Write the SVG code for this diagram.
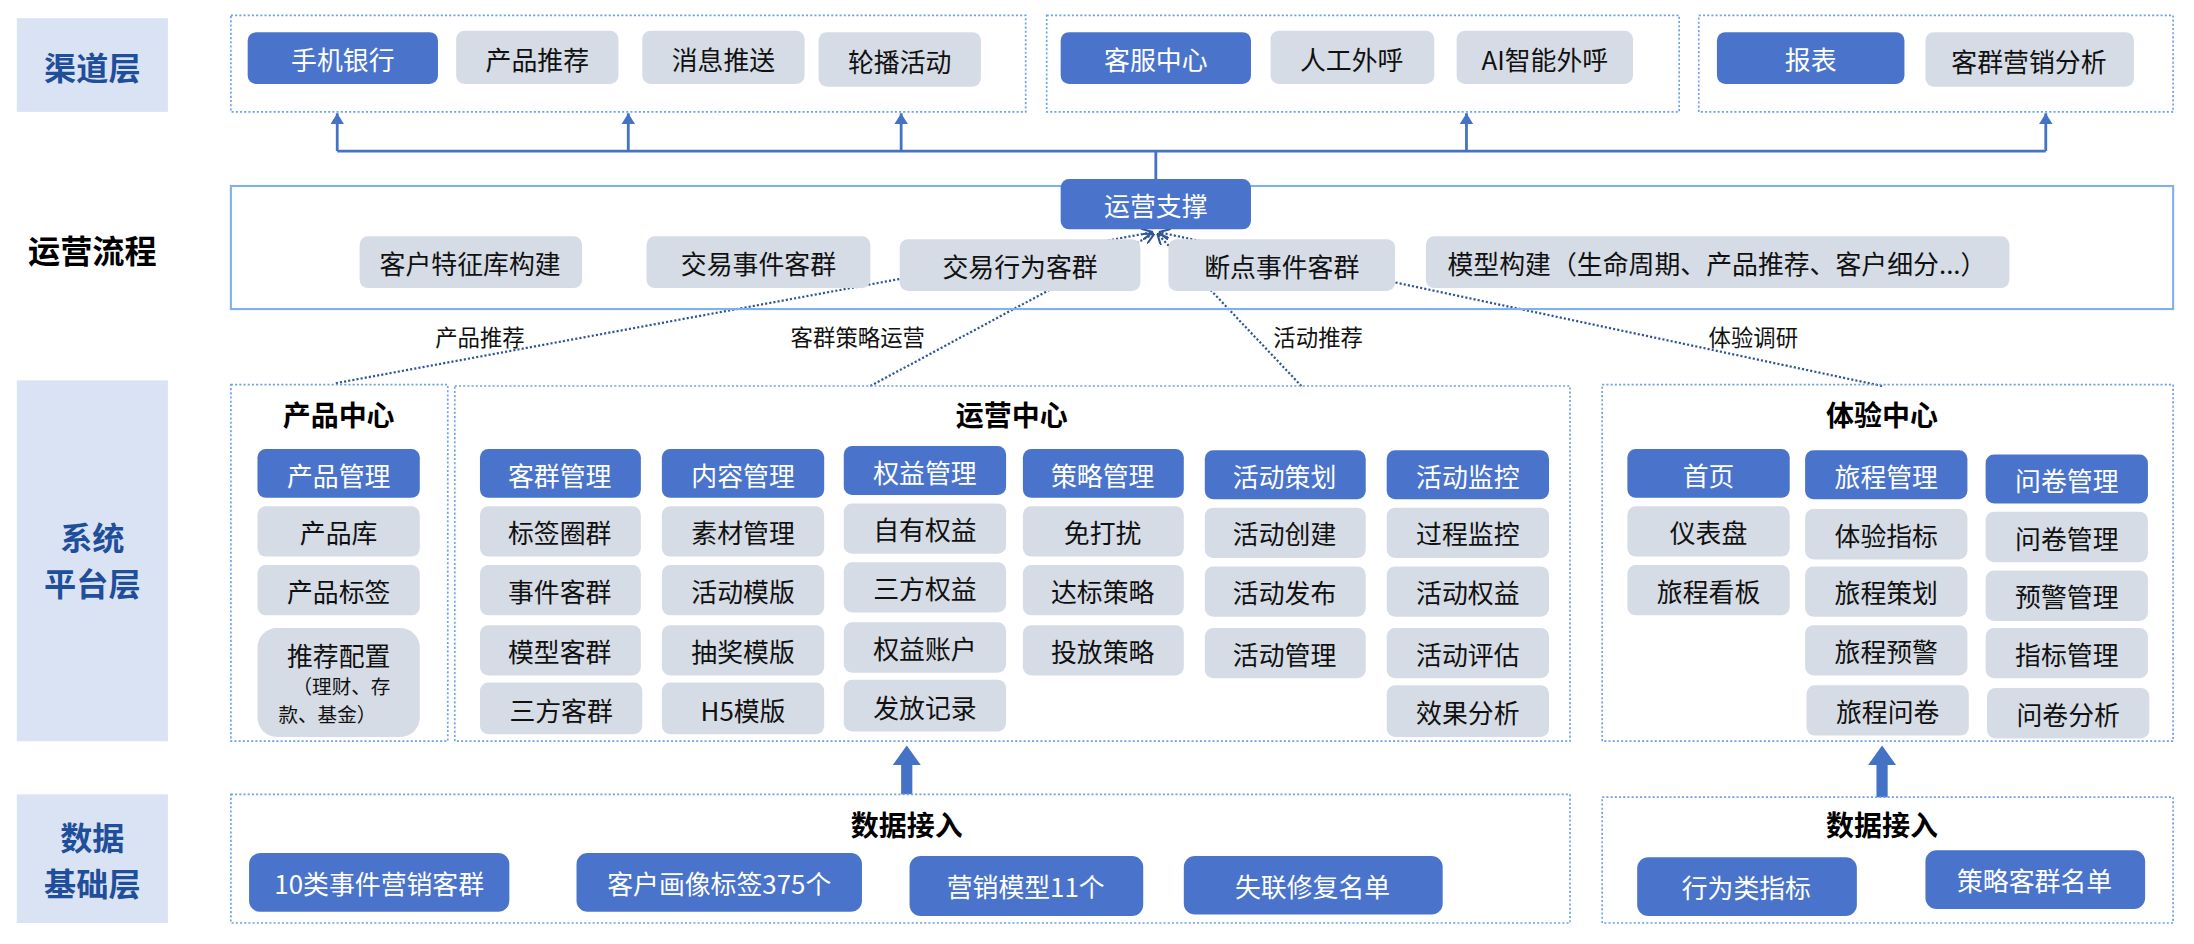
<svg xmlns="http://www.w3.org/2000/svg" width="2194" height="944" viewBox="0 0 2194 944">
<style>
text{font-family:"Noto Sans CJK SC","Liberation Sans",sans-serif;text-anchor:middle;dominant-baseline:central}
.b{fill:#4A74CB}
.g{fill:#D6DCE5}
.tw{fill:#fff;font-size:18.5px}
.tk{fill:#111;font-size:18.5px}
.grp{fill:none;stroke:#6FA3E8;stroke-width:1.2;stroke-dasharray:1.5 1.5}
.lab{fill:#DAE3F3}
.lt{fill:#1F4E9A;font-size:23px;font-weight:bold}
.ti{fill:#000;font-size:20px;font-weight:bold}
.cl{fill:#111;font-size:16px}
.ln{stroke:#4472C4;stroke-width:2;fill:none}
.dl{stroke:#2F5597;stroke-width:1.6;fill:none;stroke-dasharray:1.5 1.5}
</style>
<defs>
<marker id="ah" markerWidth="8" markerHeight="10" refX="8" refY="5" orient="auto" markerUnits="userSpaceOnUse"><path d="M0,0 L8,5 L0,10 z" fill="#4472C4"/></marker>
<marker id="ad" markerWidth="8" markerHeight="8" refX="8" refY="4" orient="auto" markerUnits="userSpaceOnUse"><path d="M0,0 L8,4 L0,8" fill="none" stroke="#2F5597" stroke-width="1.5"/></marker>
</defs>
<rect width="2194" height="944" fill="#fff"/>
<g transform="scale(1.3993,1.3985)">
<g id="labels">
<rect class="lab" x="12" y="13" width="108" height="67"/><text class="lt" x="66" y="47">渠道层</text>
<text x="66" y="178" style="fill:#000;font-size:23px;font-weight:bold">运营流程</text>
<rect class="lab" x="12" y="272" width="108" height="258"/><text class="lt" x="66" y="383">系统</text><text class="lt" x="66" y="416">平台层</text>
<rect class="lab" x="12" y="568" width="108" height="92"/><text class="lt" x="66" y="598">数据</text><text class="lt" x="66" y="631">基础层</text>
</g>
<g id="connectors">
<path class="ln" d="M826,128 V108 M241,108 H1462"/>
<path class="ln" marker-end="url(#ah)" d="M241,108 V81"/>
<path class="ln" marker-end="url(#ah)" d="M449,108 V81"/>
<path class="ln" marker-end="url(#ah)" d="M644,108 V81"/>
<path class="ln" marker-end="url(#ah)" d="M1048,108 V81"/>
<path class="ln" marker-end="url(#ah)" d="M1462,108 V81"/>
<path class="dl" marker-end="url(#ad)" d="M240,274 L824,166"/>
<path class="dl" marker-end="url(#ad)" d="M622,276 L825,167"/>
<path class="dl" marker-end="url(#ad)" d="M930,276 L827,167"/>
<path class="dl" marker-end="url(#ad)" d="M1345,276 L828,166"/>
<polygon fill="#4472C4" points="644,568 652,568 652,547 658,547 648,533 638,547 644,547"/>
<polygon fill="#4472C4" points="1341,570 1349,570 1349,547 1355,547 1345,533 1335,547 1341,547"/>
<text class="cl" x="343" y="240">产品推荐</text>
<text class="cl" x="613" y="240">客群策略运营</text>
<text class="cl" x="942" y="240">活动推荐</text>
<text class="cl" x="1253" y="240">体验调研</text>
</g>
<g id="channel">
<rect class="grp" x="165" y="11" width="568" height="69"/>
<rect class="grp" x="748" y="11" width="452" height="69"/>
<rect class="grp" x="1214" y="11" width="339" height="69"/>
<g id="n-sjyh"><rect class="b" x="177" y="23" width="136" height="37" rx="6"/><text class="tw" x="245" y="42">手机银行</text></g>
<g id="n-cptj"><rect class="g" x="326" y="22" width="116" height="38" rx="6"/><text class="tk" x="384" y="42">产品推荐</text></g>
<g id="n-xxts"><rect class="g" x="459" y="22" width="116" height="38" rx="6"/><text class="tk" x="517" y="42">消息推送</text></g>
<g id="n-lbhd"><rect class="g" x="585" y="23" width="116" height="39" rx="6"/><text class="tk" x="643" y="43">轮播活动</text></g>
<g id="n-kfzx"><rect class="b" x="758" y="23" width="136" height="37" rx="6"/><text class="tw" x="826" y="42">客服中心</text></g>
<g id="n-rgwh"><rect class="g" x="908" y="22" width="117" height="38" rx="6"/><text class="tk" x="966" y="42">人工外呼</text></g>
<g id="n-aiwh"><rect class="g" x="1041" y="22" width="126" height="38" rx="6"/><text class="tk" x="1104" y="42">AI智能外呼</text></g>
<g id="n-bb"><rect class="b" x="1227" y="23" width="134" height="37" rx="6"/><text class="tw" x="1294" y="42">报表</text></g>
<g id="n-kqyx"><rect class="g" x="1376" y="23" width="149" height="39" rx="6"/><text class="tk" x="1450" y="43">客群营销分析</text></g>
</g>
<g id="process">
<rect x="165" y="133" width="1388" height="88" fill="none" stroke="#7EB0F0" stroke-width="1.5"/>
<g id="n-yyzc"><rect class="b" x="758" y="128" width="136" height="36" rx="6"/><text class="tw" x="826" y="146">运营支撑</text></g>
<g id="n-khtz"><rect class="g" x="257" y="169" width="159" height="37" rx="6"/><text class="tk" x="336" y="188">客户特征库构建</text></g>
<g id="n-jysj"><rect class="g" x="462" y="169" width="160" height="37" rx="6"/><text class="tk" x="542" y="188">交易事件客群</text></g>
<g id="n-jyxw"><rect class="g" x="643" y="171" width="172" height="37" rx="6"/><text class="tk" x="729" y="190">交易行为客群</text></g>
<g id="n-ddsj"><rect class="g" x="835" y="171" width="162" height="37" rx="6"/><text class="tk" x="916" y="190">断点事件客群</text></g>
<g id="n-mxgj"><rect class="g" x="1019" y="169" width="417" height="37" rx="6"/><text class="tk" x="1227" y="188">模型构建（生命周期、产品推荐、客户细分...）</text></g>
</g>
<g id="platform">
<rect class="grp" x="165" y="275" width="155" height="255"/>
<rect class="grp" x="325" y="276" width="797" height="254"/>
<rect class="grp" x="1145" y="275" width="408" height="255"/>
<text class="ti" x="242" y="296">产品中心</text>
<text class="ti" x="723" y="296">运营中心</text>
<text class="ti" x="1345" y="296">体验中心</text>
<g id="n-cpgl"><rect class="b" x="184" y="321" width="116" height="35" rx="6"/><text class="tw" x="242" y="339">产品管理</text></g>
<g id="n-cpk"><rect class="g" x="184" y="362" width="116" height="36" rx="6"/><text class="tk" x="242" y="380">产品库</text></g>
<g id="n-cpbq"><rect class="g" x="184" y="404" width="116" height="36" rx="6"/><text class="tk" x="242" y="422">产品标签</text></g>
<g id="n-tjpz"><rect class="g" x="184" y="449" width="116" height="78" rx="14"/><text class="tk" x="242" y="468">推荐配置</text><text class="tk" x="244" y="490" style="font-size:14px">（理财、存</text><text class="tk" x="234" y="510" style="font-size:14px">款、基金）</text></g>
<g id="n-kqgl"><rect class="b" x="343" y="321" width="115" height="35" rx="6"/><text class="tw" x="400" y="339">客群管理</text></g>
<g id="n-bqqq"><rect class="g" x="343" y="362" width="115" height="36" rx="6"/><text class="tk" x="400" y="380">标签圈群</text></g>
<g id="n-sjkq"><rect class="g" x="343" y="404" width="115" height="36" rx="6"/><text class="tk" x="400" y="422">事件客群</text></g>
<g id="n-mxkq"><rect class="g" x="343" y="447" width="115" height="36" rx="6"/><text class="tk" x="400" y="465">模型客群</text></g>
<g id="n-sfkq"><rect class="g" x="343" y="488" width="116" height="37" rx="6"/><text class="tk" x="401" y="507">三方客群</text></g>
<g id="n-nrgl"><rect class="b" x="473" y="321" width="116" height="35" rx="6"/><text class="tw" x="531" y="339">内容管理</text></g>
<g id="n-scgl"><rect class="g" x="473" y="362" width="116" height="36" rx="6"/><text class="tk" x="531" y="380">素材管理</text></g>
<g id="n-hdmb"><rect class="g" x="473" y="404" width="116" height="36" rx="6"/><text class="tk" x="531" y="422">活动模版</text></g>
<g id="n-cjmb"><rect class="g" x="473" y="447" width="116" height="36" rx="6"/><text class="tk" x="531" y="465">抽奖模版</text></g>
<g id="n-h5mb"><rect class="g" x="473" y="488" width="116" height="37" rx="6"/><text class="tk" x="531" y="507">H5模版</text></g>
<g id="n-qygl"><rect class="b" x="603" y="319" width="116" height="35" rx="6"/><text class="tw" x="661" y="337">权益管理</text></g>
<g id="n-zyqy"><rect class="g" x="603" y="360" width="116" height="36" rx="6"/><text class="tk" x="661" y="378">自有权益</text></g>
<g id="n-sfqy"><rect class="g" x="603" y="402" width="116" height="36" rx="6"/><text class="tk" x="661" y="420">三方权益</text></g>
<g id="n-qyzh"><rect class="g" x="603" y="445" width="116" height="36" rx="6"/><text class="tk" x="661" y="463">权益账户</text></g>
<g id="n-ffjl"><rect class="g" x="603" y="486" width="116" height="37" rx="6"/><text class="tk" x="661" y="505">发放记录</text></g>
<g id="n-clgl"><rect class="b" x="731" y="321" width="115" height="35" rx="6"/><text class="tw" x="788" y="339">策略管理</text></g>
<g id="n-mdr"><rect class="g" x="731" y="362" width="115" height="36" rx="6"/><text class="tk" x="788" y="380">免打扰</text></g>
<g id="n-dbcl"><rect class="g" x="731" y="404" width="115" height="36" rx="6"/><text class="tk" x="788" y="422">达标策略</text></g>
<g id="n-tfcl"><rect class="g" x="731" y="447" width="115" height="36" rx="6"/><text class="tk" x="788" y="465">投放策略</text></g>
<g id="n-hdch"><rect class="b" x="861" y="322" width="115" height="35" rx="6"/><text class="tw" x="918" y="340">活动策划</text></g>
<g id="n-hdcj"><rect class="g" x="861" y="363" width="115" height="36" rx="6"/><text class="tk" x="918" y="381">活动创建</text></g>
<g id="n-hdfb"><rect class="g" x="861" y="405" width="115" height="36" rx="6"/><text class="tk" x="918" y="423">活动发布</text></g>
<g id="n-hdgl"><rect class="g" x="861" y="449" width="115" height="36" rx="6"/><text class="tk" x="918" y="467">活动管理</text></g>
<g id="n-hdjk"><rect class="b" x="991" y="322" width="116" height="35" rx="6"/><text class="tw" x="1049" y="340">活动监控</text></g>
<g id="n-gcjk"><rect class="g" x="991" y="363" width="116" height="36" rx="6"/><text class="tk" x="1049" y="381">过程监控</text></g>
<g id="n-hdqy"><rect class="g" x="991" y="405" width="116" height="36" rx="6"/><text class="tk" x="1049" y="423">活动权益</text></g>
<g id="n-hdpg"><rect class="g" x="991" y="449" width="116" height="36" rx="6"/><text class="tk" x="1049" y="467">活动评估</text></g>
<g id="n-xgfx"><rect class="g" x="991" y="490" width="116" height="37" rx="6"/><text class="tk" x="1049" y="509">效果分析</text></g>
<g id="n-sy"><rect class="b" x="1163" y="321" width="116" height="35" rx="6"/><text class="tw" x="1221" y="339">首页</text></g>
<g id="n-ybp"><rect class="g" x="1163" y="362" width="116" height="36" rx="6"/><text class="tk" x="1221" y="380">仪表盘</text></g>
<g id="n-lckb"><rect class="g" x="1163" y="404" width="116" height="36" rx="6"/><text class="tk" x="1221" y="422">旅程看板</text></g>
<g id="n-lcgl"><rect class="b" x="1290" y="322" width="116" height="35" rx="6"/><text class="tw" x="1348" y="340">旅程管理</text></g>
<g id="n-tyzb"><rect class="g" x="1290" y="364" width="116" height="36" rx="6"/><text class="tk" x="1348" y="382">体验指标</text></g>
<g id="n-lcch"><rect class="g" x="1290" y="405" width="116" height="36" rx="6"/><text class="tk" x="1348" y="423">旅程策划</text></g>
<g id="n-lcyj"><rect class="g" x="1290" y="447" width="116" height="36" rx="6"/><text class="tk" x="1348" y="465">旅程预警</text></g>
<g id="n-lcwj"><rect class="g" x="1291" y="490" width="116" height="36" rx="6"/><text class="tk" x="1349" y="508">旅程问卷</text></g>
<g id="n-wjgl"><rect class="b" x="1419" y="325" width="116" height="35" rx="6"/><text class="tw" x="1477" y="343">问卷管理</text></g>
<g id="n-wjgl2"><rect class="g" x="1419" y="366" width="116" height="36" rx="6"/><text class="tk" x="1477" y="384">问卷管理</text></g>
<g id="n-yjgl"><rect class="g" x="1419" y="408" width="116" height="36" rx="6"/><text class="tk" x="1477" y="426">预警管理</text></g>
<g id="n-zbgl"><rect class="g" x="1419" y="449" width="116" height="36" rx="6"/><text class="tk" x="1477" y="467">指标管理</text></g>
<g id="n-wjfx"><rect class="g" x="1420" y="492" width="116" height="36" rx="6"/><text class="tk" x="1478" y="510">问卷分析</text></g>
</g>
<g id="data">
<rect class="grp" x="165" y="568" width="957" height="92"/>
<rect class="grp" x="1145" y="570" width="408" height="90"/>
<text class="ti" x="648" y="589">数据接入</text>
<text class="ti" x="1345" y="589">数据接入</text>
<g id="n-10l"><rect class="b" x="178" y="610" width="186" height="42" rx="8"/><text class="tw" x="271" y="631">10类事件营销客群</text></g>
<g id="n-khhx"><rect class="b" x="412" y="610" width="204" height="42" rx="8"/><text class="tw" x="514" y="631">客户画像标签375个</text></g>
<g id="n-yxmx"><rect class="b" x="650" y="612" width="167" height="43" rx="8"/><text class="tw" x="733" y="633">营销模型11个</text></g>
<g id="n-slxf"><rect class="b" x="846" y="612" width="185" height="42" rx="8"/><text class="tw" x="938" y="633">失联修复名单</text></g>
<g id="n-xwzb"><rect class="b" x="1170" y="613" width="157" height="42" rx="8"/><text class="tw" x="1248" y="634">行为类指标</text></g>
<g id="n-clkq"><rect class="b" x="1376" y="608" width="157" height="42" rx="8"/><text class="tw" x="1454" y="629">策略客群名单</text></g>
</g>
</g>
</svg>
